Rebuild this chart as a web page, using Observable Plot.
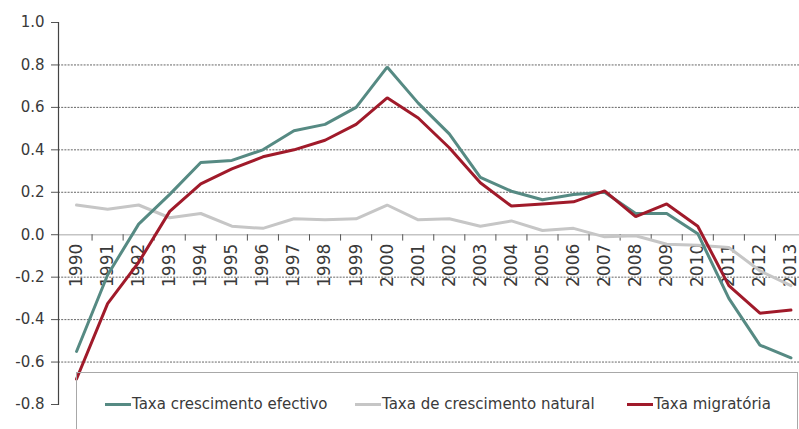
<!DOCTYPE html>
<html>
<head>
<meta charset="utf-8">
<script src="https://cdn.jsdelivr.net/npm/d3@7"></script>
<script src="https://cdn.jsdelivr.net/npm/@observablehq/plot@0.6"></script>
<style>
  html, body { margin: 0; padding: 0; background: #fff; overflow: hidden; }
  #wrap { position: relative; width: 799px; height: 429px; font-family: "DejaVu Sans", Verdana, sans-serif; }
  #legend { position: absolute; left: 76px; top: 372px; width: 722px; height: 80px;
            border: 1.5px solid #a8a8a8; background: transparent; box-sizing: border-box; }
  .item { position: absolute; top: 22px; display: flex; align-items: center; font-size: 15px; color: #3a3a3a; white-space: nowrap; }
  .sw { display: inline-block; width: 26px; height: 3px; margin-right: 1px; }
</style>
</head>
<body>
<div id="wrap"></div>
<script>
// ---- data ----
const years = [1990,1991,1992,1993,1994,1995,1996,1997,1998,1999,2000,2001,2002,2003,2004,2005,2006,2007,2008,2009,2010,2011,2012,2013];
const efectivo = [-0.55,-0.19,0.05,0.19,0.34,0.35,0.40,0.49,0.52,0.60,0.79,0.62,0.475,0.27,0.205,0.165,0.19,0.20,0.10,0.10,0.005,-0.30,-0.52,-0.58];
const natural  = [0.14,0.12,0.14,0.08,0.10,0.04,0.03,0.075,0.07,0.075,0.14,0.07,0.075,0.04,0.065,0.02,0.03,-0.01,-0.005,-0.045,-0.05,-0.06,-0.17,-0.24];
const migratoria = [-0.68,-0.325,-0.13,0.11,0.24,0.31,0.367,0.40,0.445,0.52,0.645,0.55,0.41,0.245,0.135,0.145,0.155,0.207,0.085,0.145,0.04,-0.24,-0.37,-0.355];
const seriesNames = ["Taxa crescimento efectivo", "Taxa de crescimento natural", "Taxa migratória"];
const seriesColors = ["#568a83", "#c6c6c6", "#a01a2a"];
const yTicks = [-0.8,-0.6,-0.4,-0.2,0.0,0.2,0.4,0.6,0.8,1.0];
const gridValues = [-0.6,-0.4,-0.2,0.2,0.4,0.6,0.8];

// ---- build tables ----
const seriesValues = [efectivo, natural, migratoria];
const rows = [];
seriesValues.forEach((vals, s) => vals.forEach((v, i) => rows.push({year: years[i], value: v, series: seriesNames[s]})));
const boundaries = years.map(y => y + 0.5);

const lineOrder = [seriesNames[1], seriesNames[0], seriesNames[2]];

const chart = Plot.plot({
  width: 799,
  height: 429,
  marginLeft: 58,
  marginRight: 0,
  marginTop: 22,
  marginBottom: 25,
  style: { fontFamily: "DejaVu Sans, Verdana, sans-serif", fontSize: "15px", color: "#333", background: "transparent" },
  x: { type: "linear", domain: [years[0] - 0.5, years[years.length - 1] + 0.5], range: [60.5, 806], axis: null },
  y: { domain: [yTicks[0], yTicks[yTicks.length - 1]], axis: null },
  color: { domain: seriesNames, range: seriesColors },
  marks: [
    Plot.ruleY(gridValues, { stroke: "#666", strokeDasharray: "2,1.2", strokeWidth: 1 }),
    Plot.text(years, { x: d => d, y: 0, text: d => String(d), rotate: -90, textAnchor: "end", lineAnchor: "middle", dy: 9, fontSize: 17, fill: "#3a3a3a" }),
    Plot.ruleY([0], { stroke: "#c4c4c4", strokeWidth: 1.5 }),
    Plot.ruleX(boundaries, { x: d => d, y1: 0, y2: -0.03, stroke: "#555", strokeWidth: 1 }),
    Plot.axisY({ ticks: yTicks, tickFormat: d => d.toFixed(1), tickSize: 7, tickPadding: 7, fill: "#3a3a3a", stroke: "#555", label: null }),
    Plot.frame({ anchor: "left", stroke: "#444", strokeWidth: 1.2 }),
    ...lineOrder.map(name => Plot.line(rows.filter(r => r.series === name), { x: "year", y: "value", stroke: "series", strokeWidth: 3, strokeLinejoin: "miter" }))
  ]
});
const wrap = document.getElementById("wrap");
wrap.appendChild(chart);

// legend (inside the plot area, as in the reference)
const legend = document.createElement("div");
legend.id = "legend";
const offsets = [28, 278, 550];
seriesNames.forEach((name, i) => {
  const it = document.createElement("div");
  it.className = "item";
  it.style.left = offsets[i] + "px";
  const sw = document.createElement("span");
  sw.className = "sw";
  sw.style.background = seriesColors[i];
  const tx = document.createElement("span");
  tx.textContent = name;
  it.appendChild(sw);
  it.appendChild(tx);
  legend.appendChild(it);
});
wrap.appendChild(legend);
</script>
</body>
</html>
